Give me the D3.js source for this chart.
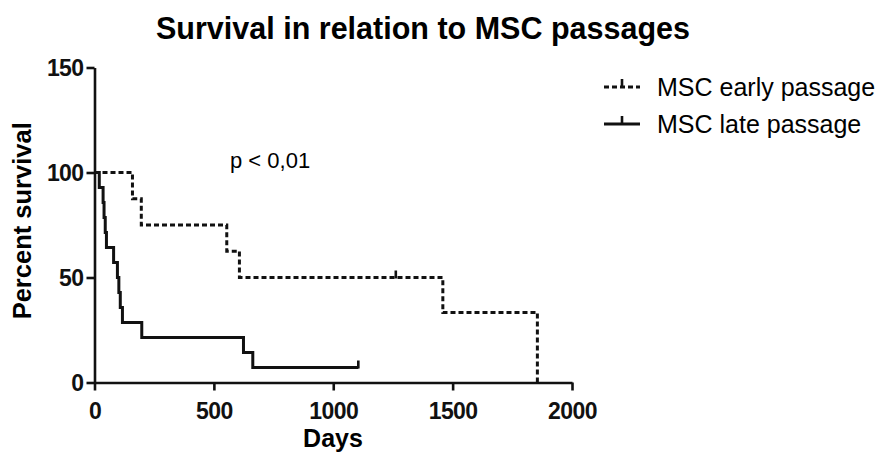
<!DOCTYPE html>
<html>
<head>
<meta charset="utf-8">
<script src="https://cdn.jsdelivr.net/npm/d3@7"></script>
<style>
  html, body { margin: 0; padding: 0; background: #fff; }
  svg { display: block; font-family: "Liberation Sans", Arial, Helvetica, sans-serif; }
</style>
</head>
<body>
<svg id="chart" width="886" height="461"></svg>
<script>
// Kaplan-Meier steps: event day and survival (%) after that event
const earlyDays = [0, 159, 196, 554, 607, 1459, 1855];
const earlySurv = [100, 87.5, 75, 62.5, 50, 33.33, 0];
const earlyCensorDays = [1262];
const earlyCensorSurv = [50];

const lateDays = [0, 20, 36, 40, 45, 50, 80, 96, 102, 108, 117, 198, 624, 663, 1105];
const lateSurv = [100, 92.86, 85.71, 78.57, 71.43, 64.29, 57.14, 50, 42.86, 35.71, 28.57, 21.43, 14.29, 7.14, 7.14];
const lateCensorDays = [1105];
const lateCensorSurv = [7.14];

const xTicks = [0, 500, 1000, 1500, 2000];
const yTicks = [0, 50, 100, 150];
const seriesNames = ["MSC early passage", "MSC late passage"];

const svg = d3.select("#chart");

const x = d3.scaleLinear().domain([0, 2000]).range([94.5, 572]);
const y = d3.scaleLinear().domain([0, 150]).range([382.5, 67.5]);

// Title
svg.append("text")
  .attr("x", 423).attr("y", 39)
  .attr("text-anchor", "middle")
  .attr("font-size", 30.5).attr("font-weight", "bold")
  .text("Survival in relation to MSC passages");

// Axes
const xAxis = svg.append("g")
  .attr("transform", `translate(0,${y(0)})`)
  .call(d3.axisBottom(x).tickValues(xTicks).tickFormat(d3.format("d"))
    .tickSize(8).tickSizeOuter(0).tickPadding(12));
const yAxis = svg.append("g")
  .attr("transform", `translate(${x(0)},0)`)
  .call(d3.axisLeft(y).tickValues(yTicks).tickFormat(d3.format("d"))
    .tickSize(8).tickSizeOuter(0).tickPadding(3));

[xAxis, yAxis].forEach(g => {
  g.select(".domain").attr("stroke", "#111").attr("stroke-width", 2.6);
  g.selectAll(".tick line").attr("stroke", "#111").attr("stroke-width", 2.6);
  g.selectAll(".tick text")
    .attr("fill", "#111")
    .attr("font-size", 23).attr("font-weight", "bold")
    .attr("letter-spacing", -0.6)
    .attr("font-family", "'Liberation Sans', Arial, sans-serif");
});
yAxis.selectAll(".tick text").attr("dy", "0.36em");

// Axis titles
svg.append("text")
  .attr("x", 333).attr("y", 447)
  .attr("text-anchor", "middle")
  .attr("font-size", 25).attr("font-weight", "bold")
  .text("Days");
svg.append("text")
  .attr("transform", `translate(31,${y(77)}) rotate(-90)`)
  .attr("text-anchor", "middle")
  .attr("font-size", 25.5).attr("font-weight", "bold")
  .text("Percent survival");

// Survival curves
const stepLine = d3.line()
  .x(d => x(d[0]))
  .y(d => y(d[1]))
  .curve(d3.curveStepAfter);

const plot = svg.append("g");

plot.append("path")
  .datum(earlyDays.map((d, i) => [d, earlySurv[i]]))
  .attr("d", stepLine)
  .attr("fill", "none").attr("stroke", "#111")
  .attr("stroke-width", 3).attr("stroke-dasharray", "5,3");

plot.append("path")
  .datum(lateDays.map((d, i) => [d, lateSurv[i]]))
  .attr("d", stepLine)
  .attr("fill", "none").attr("stroke", "#111")
  .attr("stroke-width", 3);

// Censor marks
function censor(days, surv) {
  plot.selectAll(null)
    .data(days.map((d, i) => [d, surv[i]]))
    .enter().append("line")
    .attr("x1", d => x(d[0])).attr("x2", d => x(d[0]))
    .attr("y1", d => y(d[1]) + 1).attr("y2", d => y(d[1]) - 7)
    .attr("stroke", "#111").attr("stroke-width", 2.6);
}
censor(earlyCensorDays, earlyCensorSurv);
censor(lateCensorDays, lateCensorSurv);

// p-value annotation
svg.append("text")
  .attr("x", 230).attr("y", 168)
  .attr("font-size", 22)
  .text("p < 0,01");

// Legend
const legend = svg.append("g");
const legendRows = [
  { name: seriesNames[0], dash: "5,3", y: 87 },
  { name: seriesNames[1], dash: null, y: 124 }
];
legendRows.forEach(r => {
  legend.append("line")
    .attr("x1", 604).attr("x2", 640)
    .attr("y1", r.y).attr("y2", r.y)
    .attr("stroke", "#111").attr("stroke-width", 3)
    .attr("stroke-dasharray", r.dash);
  legend.append("line")
    .attr("x1", 622).attr("x2", 622)
    .attr("y1", r.y + 1).attr("y2", r.y - 8)
    .attr("stroke", "#111").attr("stroke-width", 2.6);
  legend.append("text")
    .attr("x", 657).attr("y", r.y + 9)
    .attr("font-size", 25)
    .text(r.name);
});
</script>
</body>
</html>
